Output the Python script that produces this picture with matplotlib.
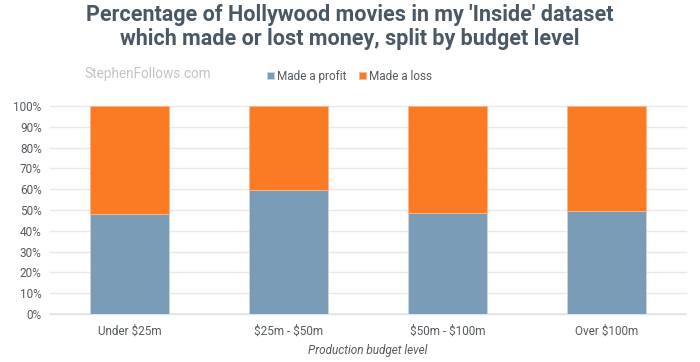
import numpy as np
import matplotlib.pyplot as plt
from matplotlib.ticker import PercentFormatter

categories = ["Under \\$25m", "\\$25m - \\$50m", "\\$50m - \\$100m", "Over \\$100m"]
profit = [48.1, 59.8, 48.6, 49.7]
loss = [100 - p for p in profit]

blue = "#7a9cb6"
orange = "#fa7b24"
text_col = "#555b61"

plt.rcParams['font.family'] = ['Roboto', 'DejaVu Sans']

fig = plt.figure(figsize=(7, 3.62), dpi=100)
ax = fig.add_axes([0.0714, 0.1326, 0.9086, 0.5746])

x = np.arange(len(categories))
ax.bar(x, profit, 0.5, color=blue, edgecolor="#c9d6e0", linewidth=0.6, label="Made a profit", zorder=3)
ax.bar(x, loss, 0.5, bottom=profit, color=orange, edgecolor="#fbb58a", linewidth=0.6, label="Made a loss", zorder=3)

ax.set_xlim(-0.5, 3.5)
ax.set_ylim(0, 100)
ax.set_yticks(np.arange(0, 101, 10))
ax.yaxis.set_major_formatter(PercentFormatter(decimals=0))
ax.grid(axis="y", color="#e6eaf0", linewidth=1, zorder=0)
for s in ["top", "right", "left"]:
    ax.spines[s].set_visible(False)
ax.spines["bottom"].set_color("#e0e4ea")
ax.spines["bottom"].set_linewidth(1.2)
ax.tick_params(axis="y", length=0, labelsize=8.5, colors=text_col, pad=6)
ax.tick_params(axis="x", length=0, labelsize=8.5, colors=text_col, pad=8)
ax.set_xticks(x)
ax.set_xticklabels(categories)
for g in ax.get_ygridlines():
    g.set_clip_on(False)

ax.set_xlabel("Production budget level", fontsize=8.5, style="italic", color=text_col, labelpad=4)

fig.text(0.5, 0.925, "Percentage of Hollywood movies in my 'Inside' dataset\nwhich made or lost money, split by budget level",
         ha="center", va="center", fontsize=15.5, fontweight="bold", color="#4a5866", linespacing=1.1)
fig.text(0.121, 0.795, "StephenFollows.com", fontsize=9.8, color="#c4c4c4", ha="left", va="center")

ax.legend(ncol=2, frameon=False, loc="center left",
          fontsize=8.5, handlelength=0.6, handleheight=0.6, handletextpad=0.3, columnspacing=1.0,
          labelcolor=text_col)
leg = ax.get_legend()
leg.set_bbox_to_anchor((0.366, 0.79), transform=fig.transFigure)

fig.savefig("out.png", dpi=100, facecolor="white")
